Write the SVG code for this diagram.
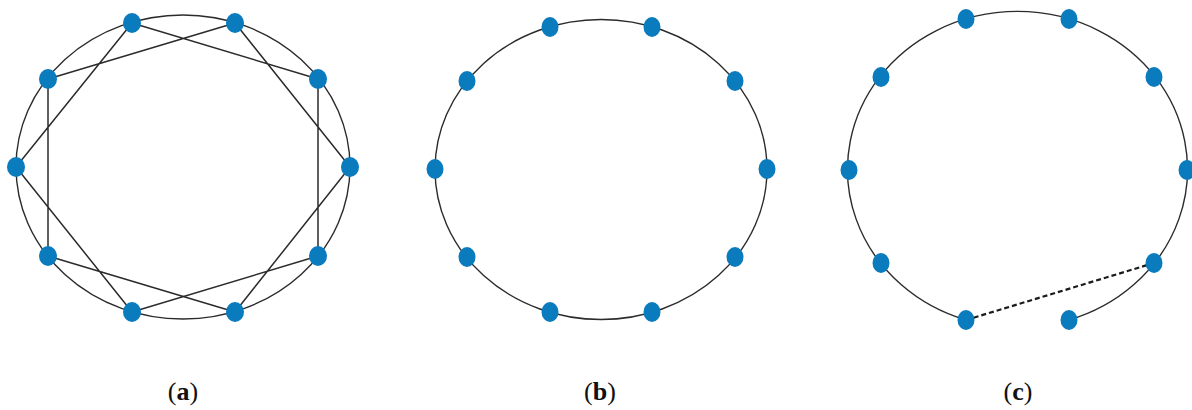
<svg xmlns="http://www.w3.org/2000/svg" width="1192" height="410" viewBox="0 0 1192 410">
<style>
.ring{fill:none;stroke:#2b2b2b;stroke-width:1.4}
.edge{fill:none;stroke:#2b2b2b;stroke-width:1.5}
.dash{fill:none;stroke:#1a1a1a;stroke-width:2.2;stroke-dasharray:5 3}
.node{fill:#0a7bbd}
.lbl{font-family:"Liberation Serif",serif;font-size:26px;fill:#111}
</style>
<rect width="1192" height="410" fill="#fff"/>
<g id="connectors">
  <ellipse class="ring" cx="183" cy="167" rx="167" ry="152"/>
  <path class="edge" d="M132 23L318 79M235 23L48 79M235 23L350 167M318 79L318 256M350 167L235 312M318 256L132 312M235 312L48 256M132 312L16 167M48 256L48 79M16 167L132 23"/>
  <ellipse class="ring" cx="601" cy="169.5" rx="166" ry="150"/>
  <path class="ring" d="M966 320A170 158 0 1 1 1069 320"/>
  <line class="dash" x1="966" y1="320" x2="1154" y2="263"/>
</g>
<g id="graph-a">
  <ellipse id="a1" class="node" cx="132" cy="23" rx="9" ry="10"/>
  <ellipse id="a2" class="node" cx="235" cy="23" rx="9" ry="10"/>
  <ellipse id="a3" class="node" cx="318" cy="79" rx="9" ry="10"/>
  <ellipse id="a4" class="node" cx="350" cy="167" rx="9" ry="10"/>
  <ellipse id="a5" class="node" cx="318" cy="256" rx="9" ry="10"/>
  <ellipse id="a6" class="node" cx="235" cy="312" rx="9" ry="10"/>
  <ellipse id="a7" class="node" cx="132" cy="312" rx="9" ry="10"/>
  <ellipse id="a8" class="node" cx="48" cy="256" rx="9" ry="10"/>
  <ellipse id="a9" class="node" cx="16" cy="167" rx="9" ry="10"/>
  <ellipse id="a10" class="node" cx="48" cy="79" rx="9" ry="10"/>
</g>
<g id="graph-b">
  <ellipse id="b1" class="node" cx="550" cy="27" rx="8.5" ry="10"/>
  <ellipse id="b2" class="node" cx="652" cy="27" rx="8.5" ry="10"/>
  <ellipse id="b3" class="node" cx="735" cy="81" rx="8.5" ry="10"/>
  <ellipse id="b4" class="node" cx="767" cy="169" rx="8.5" ry="10"/>
  <ellipse id="b5" class="node" cx="735" cy="257" rx="8.5" ry="10"/>
  <ellipse id="b6" class="node" cx="652" cy="312" rx="8.5" ry="10"/>
  <ellipse id="b7" class="node" cx="550" cy="312" rx="8.5" ry="10"/>
  <ellipse id="b8" class="node" cx="467" cy="257" rx="8.5" ry="10"/>
  <ellipse id="b9" class="node" cx="435" cy="169" rx="8.5" ry="10"/>
  <ellipse id="b10" class="node" cx="467" cy="81" rx="8.5" ry="10"/>
</g>
<g id="graph-c">
  <ellipse id="c1" class="node" cx="966" cy="19" rx="8.5" ry="10"/>
  <ellipse id="c2" class="node" cx="1069" cy="19" rx="8.5" ry="10"/>
  <ellipse id="c3" class="node" cx="1154" cy="77" rx="8.5" ry="10"/>
  <ellipse id="c4" class="node" cx="1187" cy="170" rx="8.5" ry="10"/>
  <ellipse id="c5" class="node" cx="1154" cy="263" rx="8.5" ry="10"/>
  <ellipse id="c6" class="node" cx="1069" cy="320" rx="8.5" ry="10"/>
  <ellipse id="c7" class="node" cx="966" cy="320" rx="8.5" ry="10"/>
  <ellipse id="c8" class="node" cx="881" cy="263" rx="8.5" ry="10"/>
  <ellipse id="c9" class="node" cx="849" cy="170" rx="8.5" ry="10"/>
  <ellipse id="c10" class="node" cx="881" cy="77" rx="8.5" ry="10"/>
</g>
<g id="labels">
  <text class="lbl" x="183" y="400" text-anchor="middle">(<tspan font-weight="bold">a</tspan>)</text>
  <text class="lbl" x="600" y="400" text-anchor="middle">(<tspan font-weight="bold">b</tspan>)</text>
  <text class="lbl" x="1018" y="400" text-anchor="middle">(<tspan font-weight="bold">c</tspan>)</text>
</g>
</svg>
